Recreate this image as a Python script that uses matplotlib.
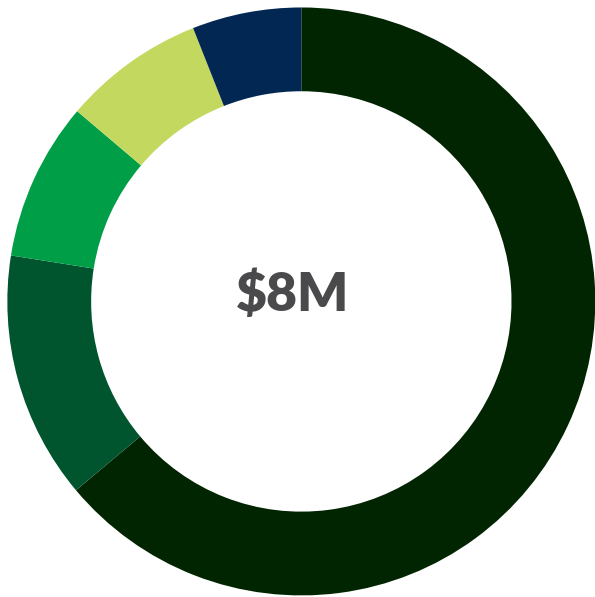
import matplotlib
matplotlib.use("Agg")
import matplotlib.pyplot as plt

# segment shares, clockwise from 12 o'clock
labels = ["A", "B", "C", "D", "E"]
shares = [63.9, 13.6, 8.7, 7.8, 6.0]
colors = ["#012401", "#00552e", "#009e47", "#c3d85e", "#032753"]
center_text = "$8M"

fig = plt.figure(figsize=(5.95, 5.97), dpi=100)
ax = fig.add_axes([0, 0, 1, 1])

# ring: outer radius ~294px, inner ~210px
ax.pie(shares, colors=colors, startangle=90, counterclock=False,
       radius=1.0, wedgeprops=dict(width=0.285, linewidth=0),
       center=(0.0, 0.0))
ax.set_xlim(-1.025, 0.999)
ax.set_ylim(-1.005, 1.025)
ax.set_aspect("equal")
ax.axis("off")

ax.text(-0.028, 0.02, center_text, ha="center", va="center",
        fontsize=38.5, fontweight="heavy", family=["Lato", "DejaVu Sans"],
        color="#4a4a4c")

fig.savefig("out.png", dpi=100)
